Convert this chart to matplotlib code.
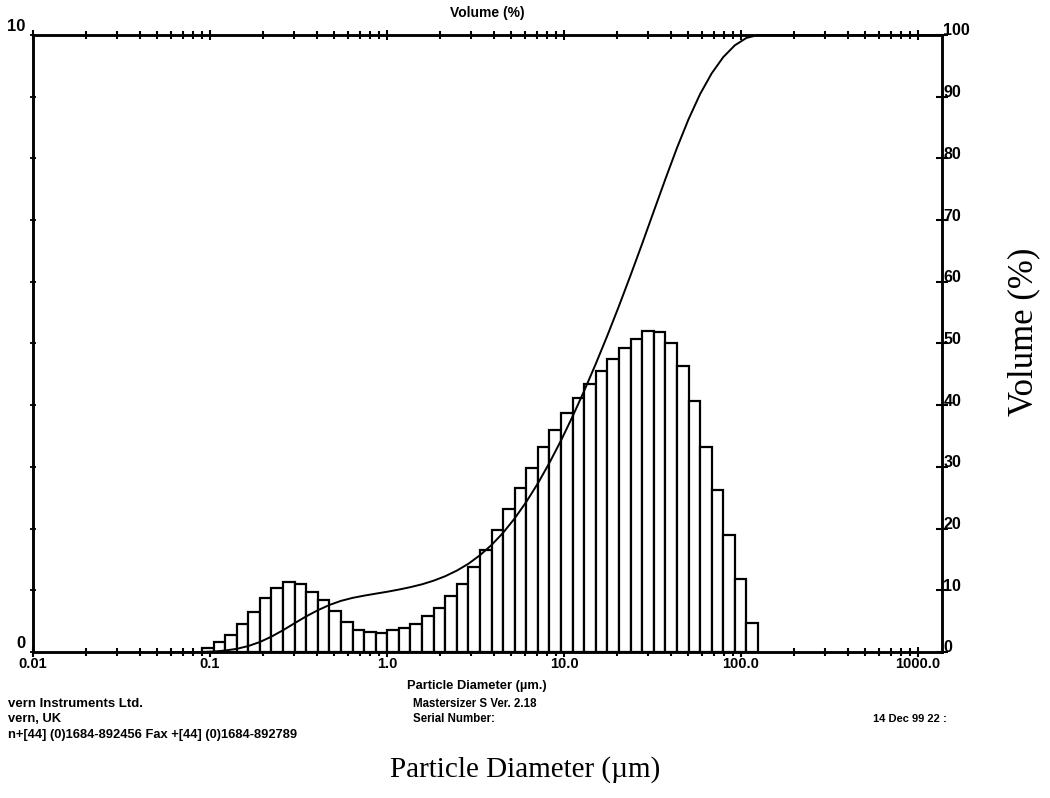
import numpy as np
import matplotlib
matplotlib.use("Agg")
import matplotlib.pyplot as plt
from matplotlib.ticker import FixedLocator, FixedFormatter, NullFormatter
from matplotlib.transforms import ScaledTranslation
from matplotlib.font_manager import FontProperties

# ---- data ----
# size band edges (um)
band_edges = [0.0901, 0.1048, 0.1218, 0.1416, 0.1646, 0.1914, 0.2225, 0.2587,
              0.3008, 0.3497, 0.4066, 0.4727, 0.5494, 0.6387, 0.7426, 0.8633,
              1.004, 1.167, 1.357, 1.578, 1.834, 2.133, 2.480, 2.883,
              3.352, 3.897, 4.531, 5.268, 6.125, 7.121, 8.279, 9.625,
              11.19, 13.01, 15.13, 17.59, 20.45, 23.77, 27.64, 32.13,
              37.36, 43.43, 50.50, 58.71, 68.26, 79.36, 92.26, 107.3, 124.7]
# volume % in each band
volume_pct = [0.07, 0.17, 0.27, 0.45, 0.65, 0.87, 1.03, 1.13,
              1.10, 0.98, 0.85, 0.66, 0.48, 0.36, 0.32, 0.31,
              0.35, 0.39, 0.46, 0.58, 0.72, 0.90, 1.10, 1.38,
              1.65, 1.97, 2.32, 2.65, 2.98, 3.32, 3.59, 3.88,
              4.12, 4.35, 4.55, 4.75, 4.93, 5.08, 5.20, 5.18,
              5.01, 4.63, 4.06, 3.33, 2.62, 1.90, 1.19, 0.47]

x_tick_values = [0.01, 0.1, 1.0, 10.0, 100.0, 1000.0]
x_tick_labels = ["0.01", "0.1", "1.0", "10.0", "100.0", "1000.0"]
left_tick_values = [0, 10]
left_tick_labels = ["0", "10"]
right_tick_values = [0, 10, 20, 30, 40, 50, 60, 70, 80, 90, 100]
right_tick_labels = ["0", "10", "20", "30", "40", "50", "60", "70", "80", "90", "100"]

# ---- figure ----
W, H = 1050, 798
fig = plt.figure(figsize=(W / 100, H / 100), dpi=100)
fig.patch.set_facecolor("white")

L, R, T, B = 33, 942, 35, 652
ax = fig.add_axes([L / W, 1 - B / H, (R - L) / W, (B - T) / H])
ax.set_xscale("log")
ax.set_xlim(0.01, 1366)
ax.set_ylim(0, 10)

edges = np.array(band_edges)
lefts = edges[:-1]
widths = edges[1:] - edges[:-1]
ax.bar(lefts, volume_pct, width=widths, align="edge", color="white",
       edgecolor="black", linewidth=1.6, zorder=2)

# cumulative curve on right axis
ax2 = ax.twinx()
ax2.set_ylim(0, 100)
vals = np.array(volume_pct)
cum = np.concatenate([[0.0], np.cumsum(vals) / vals.sum() * 100.0])
cx = np.concatenate([[0.06], edges, [1366]])
cy = np.concatenate([[0.0], cum, [100.0]])
ax2.plot(cx, cy, color="black", linewidth=1.4, zorder=3, clip_on=False)

bold = dict(family="Liberation Sans", weight="bold")

for a in (ax, ax2):
    for s in a.spines.values():
        s.set_linewidth(1.8)

# x ticks
ax.xaxis.set_major_locator(FixedLocator(x_tick_values))
ax.xaxis.set_major_formatter(FixedFormatter(x_tick_labels))
minor = [m * 10.0 ** e for e in range(-2, 4) for m in range(2, 10) if m * 10.0 ** e < 1366]
ax.xaxis.set_minor_locator(FixedLocator(minor))
ax.xaxis.set_minor_formatter(NullFormatter())
ax.tick_params(axis="x", which="both", direction="inout", top=True, bottom=True,
               width=1.5, pad=0)
ax.tick_params(axis="x", which="major", length=7)
ax.tick_params(axis="x", which="minor", length=6)
for lab in ax.get_xticklabels():
    lab.set_fontproperties(FontProperties(family="Liberation Sans", weight="bold", size=10.5))

# left y ticks
ax.yaxis.set_major_locator(FixedLocator(left_tick_values))
ax.yaxis.set_major_formatter(FixedFormatter(left_tick_labels))
ax.yaxis.set_minor_locator(FixedLocator(list(range(1, 10))))
ax.yaxis.set_minor_formatter(NullFormatter())
ax.tick_params(axis="y", which="both", direction="inout", width=1.3, pad=3, length=5)
offset_up = ScaledTranslation(0, 7 / 72, fig.dpi_scale_trans)
for lab in ax.get_yticklabels():
    lab.set_fontproperties(FontProperties(family="Liberation Sans", weight="bold", size=12))
    lab.set_transform(lab.get_transform() + offset_up)

# right y ticks
ax2.yaxis.set_major_locator(FixedLocator(right_tick_values))
ax2.yaxis.set_major_formatter(FixedFormatter(right_tick_labels))
ax2.tick_params(axis="y", which="both", direction="inout", width=1.5, length=8, pad=-3)
for lab in ax2.get_yticklabels():
    lab.set_fontproperties(FontProperties(family="Liberation Sans", weight="bold", size=11.5))
    lab.set_transform(lab.get_transform() + ScaledTranslation(0, 4 / 72, fig.dpi_scale_trans))

def ft(x, y, s, **kw):
    fig.text(x / W, 1 - y / H, s, **kw)

ft(487, 13, "Volume (%)", ha="center", va="center", size=10, **bold)
ft(477, 686, "Particle Diameter (µm.)", ha="center", va="center", size=9.3, **bold)
ft(8, 704, "vern Instruments Ltd.", ha="left", va="center", size=9.5, **bold)
ft(8, 719, "vern, UK", ha="left", va="center", size=9.3, **bold)
ft(8, 735, "n+[44] (0)1684-892456 Fax +[44] (0)1684-892789", ha="left", va="center", size=9.3, **bold)
ft(413, 704, "Mastersizer S Ver. 2.18", ha="left", va="center", size=8.3, **bold)
ft(413, 719, "Serial Number:", ha="left", va="center", size=8.3, **bold)
ft(873, 719, "14 Dec 99 22 :", ha="left", va="center", size=8, **bold)

ft(525, 770, "Particle Diameter (µm)", ha="center", va="center", size=21, family="Liberation Serif")
ft(1024, 332, "Volume (%)", ha="center", va="center", size=25, rotation=90, family="Liberation Serif")

fig.savefig("out.png", dpi=100, facecolor="white")
